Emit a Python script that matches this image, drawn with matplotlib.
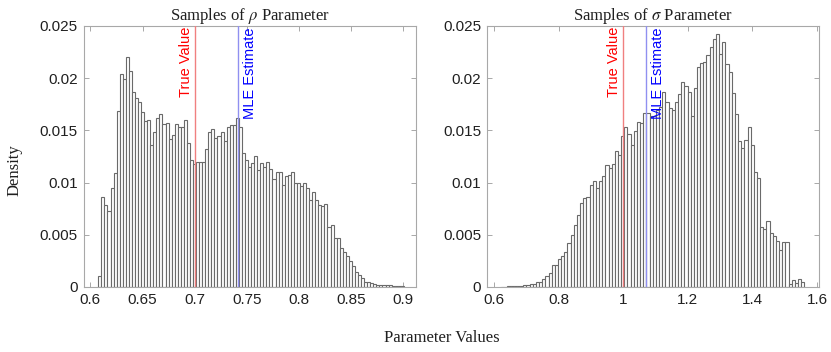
import numpy as np
import matplotlib.pyplot as plt
import matplotlib.transforms as mtransforms

# bar heights (probability per bin)
rho_heights = [0.0011, 0.0086, 0.0079, 0.0073, 0.0095, 0.0109, 0.0169, 0.0204, 0.0199, 0.0220,
               0.0207, 0.0187, 0.0181, 0.0177, 0.0168, 0.0159, 0.0160, 0.0136, 0.0148, 0.0162,
               0.0166, 0.0156, 0.0157, 0.0142, 0.0146, 0.0156, 0.0153, 0.0153, 0.0160, 0.0138,
               0.0122, 0.0118, 0.0120, 0.0120, 0.0120, 0.0132, 0.0148, 0.0151, 0.0143, 0.0145,
               0.0148, 0.0140, 0.0153, 0.0155, 0.0155, 0.0162, 0.0153, 0.0128, 0.0122, 0.0115,
               0.0119, 0.0125, 0.0112, 0.0119, 0.0115, 0.0120, 0.0113, 0.0103, 0.0110, 0.0110,
               0.0098, 0.0106, 0.0107, 0.0110, 0.0100, 0.00995, 0.00969, 0.00995, 0.00947, 0.00835,
               0.00909, 0.00835, 0.00787, 0.00771, 0.00797, 0.00574, 0.00596, 0.00465, 0.00465, 0.00373,
               0.00335, 0.00299, 0.00245, 0.00197, 0.00143, 0.00115, 0.00082, 0.00050, 0.00045, 0.00040,
               0.00030, 0.00022, 0.00022, 0.00020, 0.00015, 0.00015, 0.00012, 0.00010, 0.00012, 0.00008]
rho_start, rho_width = 0.6076, 0.00293

sigma_heights = [0.00003, 0.00003, 0.00005, 0.00006, 0.00008, 0.0001,
                 0.00012, 0.00022, 0.00022, 0.00029, 0.00032, 0.00048, 0.00048, 0.00077, 0.00102, 0.00134,
                 0.0021, 0.00214, 0.00268, 0.003, 0.00335, 0.00421, 0.00498, 0.00593, 0.00692, 0.00807,
                 0.00852, 0.00861, 0.00979, 0.01017, 0.00947, 0.01017,
                 0.01065, 0.01164, 0.01138, 0.0118, 0.01307, 0.01266,
                 0.01448, 0.01534, 0.01464, 0.01358, 0.01492, 0.01585, 0.01575, 0.01665,
                 0.01665, 0.01633, 0.01633, 0.0170, 0.01728, 0.01872, 0.01776, 0.01712, 0.01696, 0.01776,
                 0.0185, 0.01967, 0.01926, 0.01872, 0.01633, 0.01904, 0.02111, 0.02143, 0.02159, 0.02223,
                 0.0230, 0.02372,
                 0.0242, 0.02232, 0.0235, 0.0214, 0.02057, 0.01856, 0.01655, 0.01394, 0.0133,
                 0.0141, 0.01531, 0.01362, 0.01097, 0.01043, 0.00574, 0.00558, 0.00631, 0.00517, 0.00485,
                 0.00437, 0.00351, 0.00427, 0.00427, 0.0003, 0.0007, 0.0004, 0.0008, 0.0005]
sigma_start, sigma_width = 0.622, 0.00978

rho_true, rho_mle = 0.7, 0.742
sigma_true, sigma_mle = 1.0, 1.07

rho_ticks = [0.6, 0.65, 0.7, 0.75, 0.8, 0.85, 0.9]
rho_ticklabels = ['0.6', '0.65', '0.7', '0.75', '0.8', '0.85', '0.9']
sigma_ticks = [0.6, 0.8, 1.0, 1.2, 1.4, 1.6]
sigma_ticklabels = ['0.6', '0.8', '1', '1.2', '1.4', '1.6']
y_ticks = [0, 0.005, 0.01, 0.015, 0.02, 0.025]
y_ticklabels = ['0', '0.005', '0.01', '0.015', '0.02', '0.025']

plt.rcParams['font.family'] = 'Liberation Sans'
plt.rcParams['mathtext.fontset'] = 'stix'

fig = plt.figure(figsize=(8.31, 3.52), dpi=100)
ax1 = fig.add_axes([0.1005, 0.1847, 0.3998, 0.7415])
ax2 = fig.add_axes([0.5857, 0.1847, 0.4002, 0.7415])

panels = [
    (ax1, rho_heights, rho_start, rho_width, rho_true, rho_mle, (0.5934, 0.912),
     rho_ticks, rho_ticklabels, r'Samples of $\rho$ Parameter'),
    (ax2, sigma_heights, sigma_start, sigma_width, sigma_true, sigma_mle, (0.5774, 1.607),
     sigma_ticks, sigma_ticklabels, r'Samples of $\sigma$ Parameter'),
]

for ax, h, start, w, tv, mle, xl, xt, xtl, title in panels:
    edges = start + w * np.arange(len(h))
    ax.bar(edges, h, width=w, align='edge', facecolor='white',
           edgecolor='#6a6a6a', linewidth=0.8, zorder=2)
    ax.axvline(tv, color='#f08080', lw=1.0, zorder=3)
    ax.axvline(mle, color='#9090f0', lw=1.0, zorder=3)

    left = mtransforms.offset_copy(ax.transData, fig=fig, x=-2, y=0, units='dots')
    right = mtransforms.offset_copy(ax.transData, fig=fig, x=5, y=0, units='dots')
    ax.text(tv, 0.0249, 'True Value', rotation=90, ha='right', va='top',
            color='red', fontsize=10.5, transform=left, zorder=4)
    ax.text(mle, 0.0249, 'MLE Estimate', rotation=90, ha='left', va='top',
            color='blue', fontsize=10.5, transform=right, zorder=4)

    ax.set_xlim(*xl)
    ax.set_ylim(0, 0.025)
    ax.set_xticks(xt)
    ax.set_xticklabels(xtl)
    ax.set_yticks(y_ticks)
    ax.set_yticklabels(y_ticklabels)
    ax.tick_params(direction='in', length=3.5, width=0.6, color='#9a9a9a',
                   labelsize=11, labelcolor='#202020', top=True, right=True, pad=4)
    for s in ax.spines.values():
        s.set_color('#a8a8a8')
        s.set_linewidth(0.8)
    ax.set_title(title, family='Liberation Serif', fontsize=12, pad=4, color='#202020')

fig.text(0.018, 0.517, 'Density', rotation=90, ha='center', va='center',
         family='Liberation Serif', fontsize=12, color='#202020')
fig.text(0.532, 0.04, 'Parameter Values', ha='center', va='center',
         family='Liberation Serif', fontsize=12, color='#202020')

fig.savefig('out.png', dpi=100)
